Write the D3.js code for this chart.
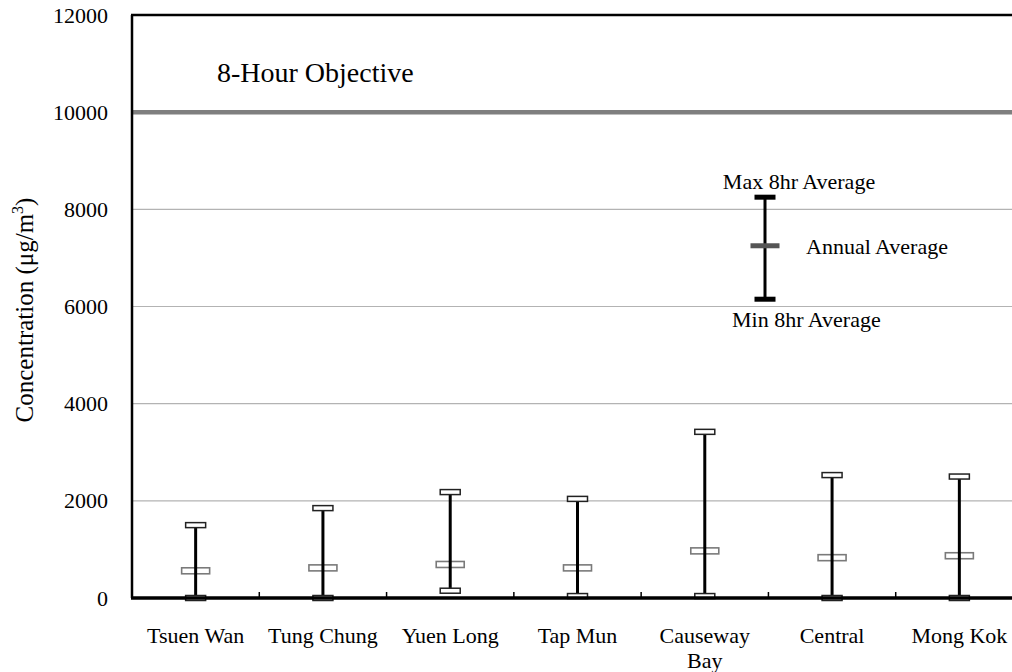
<!DOCTYPE html>
<html>
<head>
<meta charset="utf-8">
<script src="https://cdn.jsdelivr.net/npm/d3@7"></script>
<style>
  html, body { margin: 0; padding: 0; background: #fff; }
  svg { display: block; }
  text { font-family: "Liberation Serif", "Times New Roman", serif; fill: #000; }
</style>
</head>
<body>
<svg id="chart" width="1012" height="672"></svg>
<script>
// Monitoring stations along the x axis
const stations = ["Tsuen Wan", "Tung Chung", "Yuen Long", "Tap Mun", "Causeway Bay", "Central", "Mong Kok"];
// 8-hour average concentrations (µg/m³)
const maxValues  = [1500, 1850, 2180, 2040, 3420, 2530, 2500];
const meanValues = [560, 620, 690, 620, 970, 830, 870];
const minValues  = [0, 0, 150, 40, 40, 0, 0];
// Y axis ticks and air quality objective
const yTicks = [0, 2000, 4000, 6000, 8000, 10000, 12000];
const gridValues = [2000, 4000, 6000, 8000];
const objective = 10000;
// Key: sample bar values
const keyValues = { max: 8250, mean: 7250, min: 6150 };

const svg = d3.select("#chart");

const plot = { left: 132, right: 1023, top: 15, bottom: 598 };

const x = d3.scaleBand().domain(stations).range([plot.left, plot.right]).padding(0);
const y = d3.scaleLinear().domain([0, 12000]).range([plot.bottom, plot.top]);
const cx = d => x(d) + x.bandwidth() / 2;

// Horizontal gridlines
svg.append("g").selectAll("line").data(gridValues).join("line")
  .attr("x1", plot.left).attr("x2", plot.right)
  .attr("y1", d => y(d)).attr("y2", d => y(d))
  .attr("stroke", "#b3b3b3").attr("stroke-width", 1.2);

// Objective line
svg.append("line")
  .attr("x1", plot.left).attr("x2", plot.right)
  .attr("y1", y(objective)).attr("y2", y(objective))
  .attr("stroke", "#7f7f7f").attr("stroke-width", 4.5);

svg.append("text")
  .attr("x", 217).attr("y", 82)
  .attr("font-size", 28)
  .text("8-Hour Objective");

// Y axis labels (no tick marks)
const yAxis = d3.axisLeft(y).tickValues(yTicks).tickSize(0).tickPadding(24).tickFormat(d3.format("d"));
const gy = svg.append("g").attr("transform", `translate(${plot.left},0)`).call(yAxis);
gy.select(".domain").remove();
gy.selectAll("text")
  .attr("font-family", "'Liberation Serif', 'Times New Roman', serif")
  .attr("font-size", 22).attr("fill", "#000");

// Y axis title
const yt = svg.append("text")
  .attr("transform", "translate(33,310) rotate(-90)")
  .attr("text-anchor", "middle")
  .attr("font-size", 25);
yt.append("tspan").text("Concentration (\u03bcg/m");
yt.append("tspan").attr("font-size", 16).attr("dy", -10).text("3");
yt.append("tspan").attr("dy", 10).text(")");

// Error bars per station
const bars = svg.append("g").selectAll("g").data(stations).join("g");

bars.append("rect")
  .attr("x", d => cx(d) - 14).attr("width", 28)
  .attr("y", (d, i) => y(meanValues[i]) - 3).attr("height", 6)
  .attr("fill", "#fff").attr("stroke", "#7a7a7a").attr("stroke-width", 1.6);

bars.append("line")
  .attr("x1", d => cx(d)).attr("x2", d => cx(d))
  .attr("y1", (d, i) => y(minValues[i])).attr("y2", (d, i) => y(maxValues[i]))
  .attr("stroke", "#000").attr("stroke-width", 3);

bars.append("rect")
  .attr("x", d => cx(d) - 10).attr("width", 20)
  .attr("y", (d, i) => y(maxValues[i]) - 2.5).attr("height", 5)
  .attr("fill", "#fff").attr("stroke", "#222").attr("stroke-width", 1.5);

bars.append("rect")
  .attr("x", d => cx(d) - 10).attr("width", 20)
  .attr("y", (d, i) => y(minValues[i]) - 2.5).attr("height", 5)
  .attr("fill", "#fff").attr("stroke", "#222").attr("stroke-width", 1.5);

// Frame: left axis, top border, bottom axis
svg.append("line").attr("x1", plot.left).attr("x2", plot.left)
  .attr("y1", plot.top).attr("y2", plot.bottom)
  .attr("stroke", "#000").attr("stroke-width", 2.5);
svg.append("line").attr("x1", plot.left - 1).attr("x2", plot.right)
  .attr("y1", plot.top).attr("y2", plot.top)
  .attr("stroke", "#000").attr("stroke-width", 2.5);

// X axis with inward ticks at band boundaries
const xAxisG = svg.append("g");
xAxisG.selectAll("line.tick").data(stations.slice(1)).join("line")
  .attr("class", "tick")
  .attr("x1", d => x(d)).attr("x2", d => x(d))
  .attr("y1", plot.bottom).attr("y2", plot.bottom - 6)
  .attr("stroke", "#000").attr("stroke-width", 1.5);
xAxisG.append("line").attr("x1", plot.left - 1).attr("x2", plot.right)
  .attr("y1", plot.bottom).attr("y2", plot.bottom)
  .attr("stroke", "#000").attr("stroke-width", 3.5);

// Station labels, wrapped to fit band width
const labelG = svg.append("g");
stations.forEach(s => {
  const t = labelG.append("text")
    .attr("x", cx(s)).attr("y", 643)
    .attr("text-anchor", "middle").attr("font-size", 22);
  const words = s === "Causeway Bay" ? ["Causeway", "Bay"] : [s];
  words.forEach((w, k) => {
    t.append("tspan").attr("x", cx(s)).attr("dy", k === 0 ? 0 : 25).text(w);
  });
});

// Key explaining the markers
const kx = 765;
const key = svg.append("g");
key.append("line").attr("x1", kx).attr("x2", kx)
  .attr("y1", y(keyValues.min)).attr("y2", y(keyValues.max))
  .attr("stroke", "#000").attr("stroke-width", 3);
key.append("rect").attr("x", kx - 10.5).attr("width", 21)
  .attr("y", y(keyValues.max) - 2.5).attr("height", 5).attr("fill", "#000");
key.append("rect").attr("x", kx - 10.5).attr("width", 21)
  .attr("y", y(keyValues.min) - 2.5).attr("height", 5).attr("fill", "#000");
key.append("rect").attr("x", kx - 14.5).attr("width", 29)
  .attr("y", y(keyValues.mean) - 2.5).attr("height", 5).attr("fill", "#555");

key.append("text").attr("x", 799).attr("y", 189).attr("text-anchor", "middle")
  .attr("font-size", 22).text("Max 8hr Average");
key.append("text").attr("x", 806).attr("y", 254)
  .attr("font-size", 22).text("Annual Average");
key.append("text").attr("x", 732).attr("y", 327)
  .attr("font-size", 22).text("Min 8hr Average");
</script>
</body>
</html>
